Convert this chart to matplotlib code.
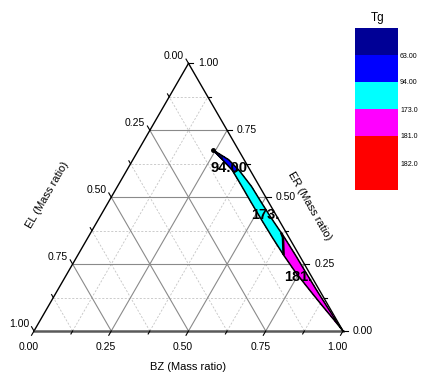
import numpy as np
import matplotlib
matplotlib.use("Agg")
import matplotlib.pyplot as plt
import matplotlib.tri as mtri
from matplotlib.colors import ListedColormap, BoundaryNorm
from matplotlib.cm import ScalarMappable

plt.rcParams['font.family'] = ['Liberation Sans', 'DejaVu Sans']

# ── data (ternary: BZ + EL + ER = 1) ─────────────────────────────────────────
# sample rows along the strip, from the EL/ER end down to the BZ vertex
er_rows   = [0.64, 0.60, 0.54, 0.48, 0.42, 0.35, 0.28, 0.22, 0.15, 0.09, 0.04]
el_outer  = [0.070, 0.058, 0.057, 0.057, 0.056, 0.054, 0.050, 0.044, 0.031, 0.019, 0.008]
el_inner  = [0.050, 0.036, 0.026, 0.024, 0.021, 0.015, 0.012, 0.011, 0.009, 0.006, 0.003]
tg_outer  = [64, 90, 115, 135, 150, 165, 173.5, 175, 177, 178, 179]
tg_inner  = [80, 95, 130, 150, 170, 174, 176, 177, 178, 179, 180]
top_point = (0.083, 0.677, 40)    # (EL, ER, Tg)
tip_point = (0.0, 0.0, 180)       # pure BZ

levels     = [0, 63, 94, 173, 181, 182, 250]
level_cols = ["#000096", "#0000FF", "#00FFFF", "#FF00FF", "#FF0000", "#FF0000"]
tick_lbls  = ["63.00", "94.00", "173.0", "181.0", "182.0"]

# contour label text and where it sits (EL, ER)
contour_labels = [("94.00", 0.065, 0.609), ("173.", 0.036, 0.433), ("181.", 0.045, 0.202)]

axis_ticks = [0.0, 0.25, 0.5, 0.75, 1.0]
minor_ticks = [0.125, 0.375, 0.625, 0.875]

S3 = np.sqrt(3) / 2


def to_xy(el, er):
    """ternary (EL, ER) -> cartesian, BZ vertex at (1, 0)"""
    el = np.asarray(el, dtype=float)
    er = np.asarray(er, dtype=float)
    return 1 - el - er / 2, er * S3


# ── figure ───────────────────────────────────────────────────────────────────
fig = plt.figure(figsize=(4.23, 3.77), dpi=100, facecolor="white")
ax = fig.add_axes([0, 0, 1, 1])
ax.set_xlim(-34 / 309, (423 - 34) / 309)
ax.set_ylim(-(377 - 331) / 309, 331 / 309)
ax.axis("off")

# grid
for t in minor_ticks + [0.25, 0.5, 0.75]:
    major = t in (0.25, 0.5, 0.75)
    kw = dict(color="#8a8a8a", lw=0.8, ls="-") if major else \
        dict(color="#c4c4c4", lw=0.6, ls=(0, (2.5, 2)))
    # constant ER
    x, y = to_xy([1 - t, 0], [t, t])
    ax.plot(x, y, zorder=1, **kw)
    # constant EL
    x, y = to_xy([t, t], [0, 1 - t])
    ax.plot(x, y, zorder=1, **kw)
    # constant BZ
    x, y = to_xy([1 - t, 0], [0, 1 - t])
    ax.plot(x, y, zorder=1, **kw)

# triangle edges
x, y = to_xy([1, 0, 0], [0, 1, 0])
ax.plot(x[:2], y[:2], color="black", lw=1.0, zorder=4)
ax.plot(x[1:], y[1:], color="black", lw=1.0, zorder=4)
ax.plot([x[0], x[2]], [y[0], y[2]], color="#5a5a5a", lw=1.8, zorder=4)

# ticks
d60 = np.array([np.cos(np.radians(240)), np.sin(np.radians(240))])
d120 = np.array([np.cos(np.radians(120)), np.sin(np.radians(120))])
for t in axis_ticks + minor_ticks:
    L = 0.016 if t in axis_ticks else 0.011
    # BZ (bottom)
    bx, by = to_xy(1 - t, 0)
    ax.plot([bx, bx + L * d60[0]], [by, by + L * d60[1]], color="black", lw=0.8, zorder=4)
    # EL (left)
    lx, ly = to_xy(t, 1 - t)
    ax.plot([lx, lx + L * d120[0]], [ly, ly + L * d120[1]], color="black", lw=0.8, zorder=4)
    # ER (right)
    rx, ry = to_xy(0, t)
    ax.plot([rx, rx + L], [ry, ry], color="black", lw=0.8, zorder=4)

for t in axis_ticks:
    bx, by = to_xy(1 - t, 0)
    ax.text(bx - 0.018, by - 0.036, f"{t:.2f}", ha="center", va="top", fontsize=7.5)
    lx, ly = to_xy(t, 1 - t)
    ax.text(lx - 0.016, ly + 0.008, f"{t:.2f}", ha="right", va="bottom", fontsize=7.5)
    rx, ry = to_xy(0, t)
    ax.text(rx + 0.032, ry, f"{t:.2f}", ha="left", va="center", fontsize=7.5)

ax.text(0.5, -0.1165, "BZ (Mass ratio)", ha="center", va="center", fontsize=8)
ax.text(0.042, 0.44, "EL (Mass ratio)", ha="center", va="center", rotation=60, fontsize=8)
ax.text(0.893, 0.405, "ER (Mass ratio)", ha="center", va="center", rotation=-60, fontsize=8)

# ── contour strip ────────────────────────────────────────────────────────────
el_pts = [top_point[0]] + el_outer + el_inner + [tip_point[0]]
er_pts = [top_point[1]] + er_rows + er_rows + [tip_point[1]]
tg_pts = [top_point[2]] + tg_outer + tg_inner + [tip_point[2]]
px, py = to_xy(el_pts, er_pts)

n = len(er_rows)
o0, i0, tip = 1, 1 + n, 1 + 2 * n
tris = [(0, o0, i0)]
for k in range(n - 1):
    tris.append((o0 + k, o0 + k + 1, i0 + k))
    tris.append((o0 + k + 1, i0 + k + 1, i0 + k))
tris.append((o0 + n - 1, tip, i0 + n - 1))
triang = mtri.Triangulation(px, py, tris)

cmap = ListedColormap(level_cols)
norm = BoundaryNorm(levels, cmap.N)
ax.tricontourf(triang, tg_pts, levels=levels, cmap=cmap, norm=norm, zorder=5)
ax.tricontour(triang, tg_pts, levels=levels[1:-1], colors="black",
              linewidths=[0.8, 0.8, 1.8, 0.8, 0.8], zorder=6)

# strip outline
outline = [0] + list(range(o0, o0 + n)) + [tip] + list(range(i0 + n - 1, i0 - 1, -1)) + [0]
ax.plot(px[outline], py[outline], color="black", lw=1.1, zorder=6)
ax.plot(px[0], py[0], "o", color="black", ms=2.5, zorder=7)

for txt, el, er in contour_labels:
    tx, ty = to_xy(el, er)
    ax.text(tx, ty, txt, ha="center", va="center", fontsize=10.5,
            fontweight="bold", zorder=8)

# ── colour scale ─────────────────────────────────────────────────────────────
cax = fig.add_axes([355 / 423, 1 - 190 / 377, 43 / 423, 162 / 377])
cbar = fig.colorbar(ScalarMappable(norm=norm, cmap=cmap), cax=cax,
                    ticks=levels[1:-1], spacing="uniform")
cbar.set_ticklabels(tick_lbls)
cbar.minorticks_off()
cbar.outline.set_visible(False)
cax.tick_params(which="both", length=0, labelsize=5, pad=1.5)
cax.invert_yaxis()
fig.text(378 / 423, 1 - 18 / 377, "Tg", ha="center", va="center", fontsize=8.5)

fig.savefig("out.png", dpi=100)
